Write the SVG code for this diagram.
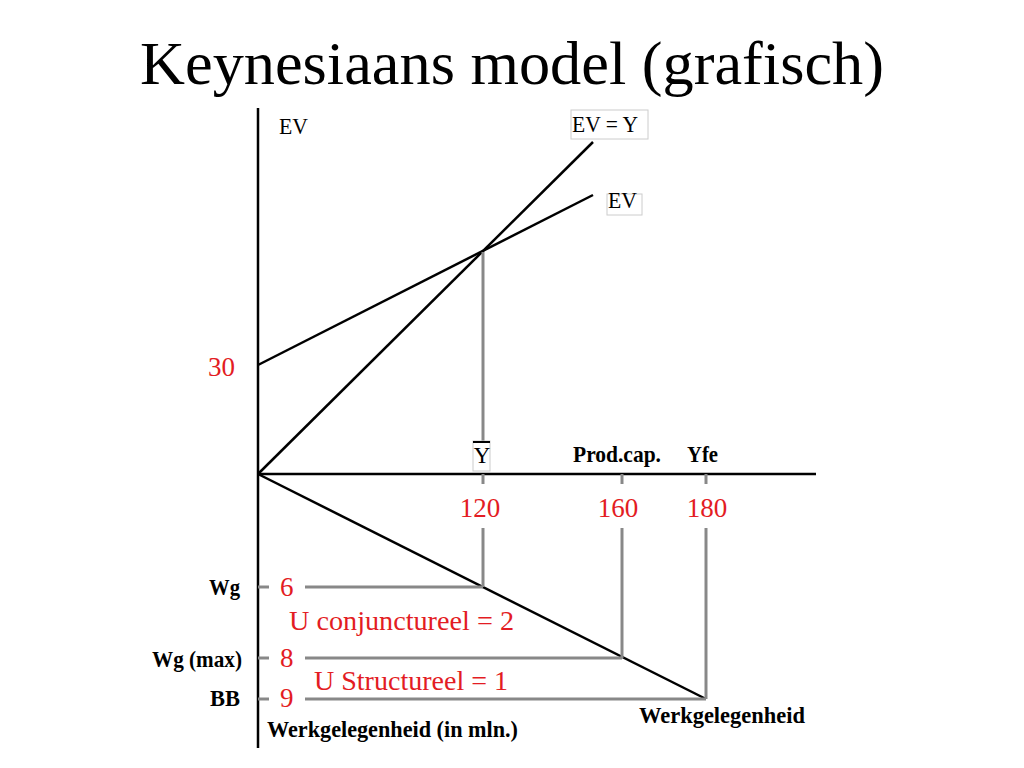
<svg xmlns="http://www.w3.org/2000/svg" width="1024" height="768" viewBox="0 0 1024 768">
<style>
.ax{stroke:#000;stroke-width:2.5;fill:none}
.gr{stroke:#888;stroke-width:3;fill:none}
.t{font-family:"Liberation Serif","Times New Roman",serif;fill:#000}
.b{font-family:"Liberation Serif","Times New Roman",serif;font-weight:bold;fill:#000;font-size:23px}
.r{font-family:"Liberation Serif","Times New Roman",serif;fill:#e31c23;font-size:27px}
.box{fill:#fff;stroke:#ccc;stroke-width:1}
</style>
<rect width="1024" height="768" fill="#fff"/>
<text class="t" x="512" y="84" font-size="62" text-anchor="middle" textLength="744" lengthAdjust="spacingAndGlyphs">Keynesiaans model (grafisch)</text>

<g id="connectors">
<line class="ax" x1="258" y1="108" x2="258" y2="748"/>
<line class="ax" x1="258" y1="474" x2="816" y2="474"/>
<line class="ax" x1="258" y1="474" x2="593" y2="142"/>
<line class="ax" x1="258" y1="365" x2="593" y2="195"/>
<line class="ax" x1="258" y1="474" x2="706" y2="699"/>
<line class="gr" x1="483" y1="252" x2="483" y2="441"/>
<line class="gr" x1="483" y1="474" x2="483" y2="484"/>
<line class="gr" x1="622" y1="474" x2="622" y2="484"/>
<line class="gr" x1="706" y1="474" x2="706" y2="484"/>
<line class="gr" x1="483" y1="528" x2="483" y2="587"/>
<line class="gr" x1="622" y1="528" x2="622" y2="658"/>
<line class="gr" x1="706" y1="528" x2="706" y2="699"/>
<line class="gr" x1="258" y1="587" x2="269" y2="587"/>
<line class="gr" x1="305" y1="587" x2="483" y2="587"/>
<line class="gr" x1="258" y1="658" x2="269" y2="658"/>
<line class="gr" x1="305" y1="658" x2="622" y2="658"/>
<line class="gr" x1="258" y1="699" x2="269" y2="699"/>
<line class="gr" x1="305" y1="699" x2="706" y2="699"/>
</g>

<g id="label-ev-axis"><text class="t" x="279" y="134" font-size="23" textLength="29" lengthAdjust="spacingAndGlyphs">EV</text></g>
<g id="label-ev-eq-y"><rect class="box" x="571" y="110" width="77" height="29"/><text class="t" x="572" y="132" font-size="23" textLength="66" lengthAdjust="spacingAndGlyphs">EV = Y</text></g>
<g id="label-ev"><rect class="box" x="607" y="194" width="35" height="21"/><text class="t" x="608" y="208" font-size="23" textLength="29" lengthAdjust="spacingAndGlyphs">EV</text></g>
<g id="label-30"><text class="r" x="208" y="376">30</text></g>
<g id="label-ybar"><rect class="box" x="473" y="441" width="17" height="30"/><line x1="473" y1="442" x2="490" y2="442" stroke="#000" stroke-width="2"/><text class="t" x="482" y="463" font-size="23" text-anchor="middle">Y</text></g>
<g id="label-prodcap"><text class="b" x="573" y="462" textLength="88" lengthAdjust="spacingAndGlyphs">Prod.cap.</text></g>
<g id="label-yfe"><text class="b" x="687" y="462" textLength="31" lengthAdjust="spacingAndGlyphs">Yfe</text></g>
<g id="label-120"><text class="r" x="480" y="517" text-anchor="middle">120</text></g>
<g id="label-160"><text class="r" x="618" y="517" text-anchor="middle">160</text></g>
<g id="label-180"><text class="r" x="707" y="517" text-anchor="middle">180</text></g>
<g id="label-wg"><text class="b" x="209" y="595" textLength="31" lengthAdjust="spacingAndGlyphs">Wg</text><text class="r" x="280" y="596">6</text></g>
<g id="label-uconj"><text class="r" x="289" y="630" textLength="225" lengthAdjust="spacingAndGlyphs">U conjunctureel = 2</text></g>
<g id="label-wgmax"><text class="b" x="152" y="667" textLength="90" lengthAdjust="spacingAndGlyphs">Wg (max)</text><text class="r" x="280" y="667">8</text></g>
<g id="label-ustruct"><text class="r" x="314" y="690" textLength="194" lengthAdjust="spacingAndGlyphs">U Structureel = 1</text></g>
<g id="label-bb"><text class="b" x="210" y="706" textLength="30" lengthAdjust="spacingAndGlyphs">BB</text><text class="r" x="280" y="707">9</text></g>
<g id="label-werk-mln"><text class="b" x="267" y="737" textLength="251" lengthAdjust="spacingAndGlyphs">Werkgelegenheid (in mln.)</text></g>
<g id="label-werk"><text class="b" x="639" y="723" textLength="166" lengthAdjust="spacingAndGlyphs">Werkgelegenheid</text></g>
</svg>
